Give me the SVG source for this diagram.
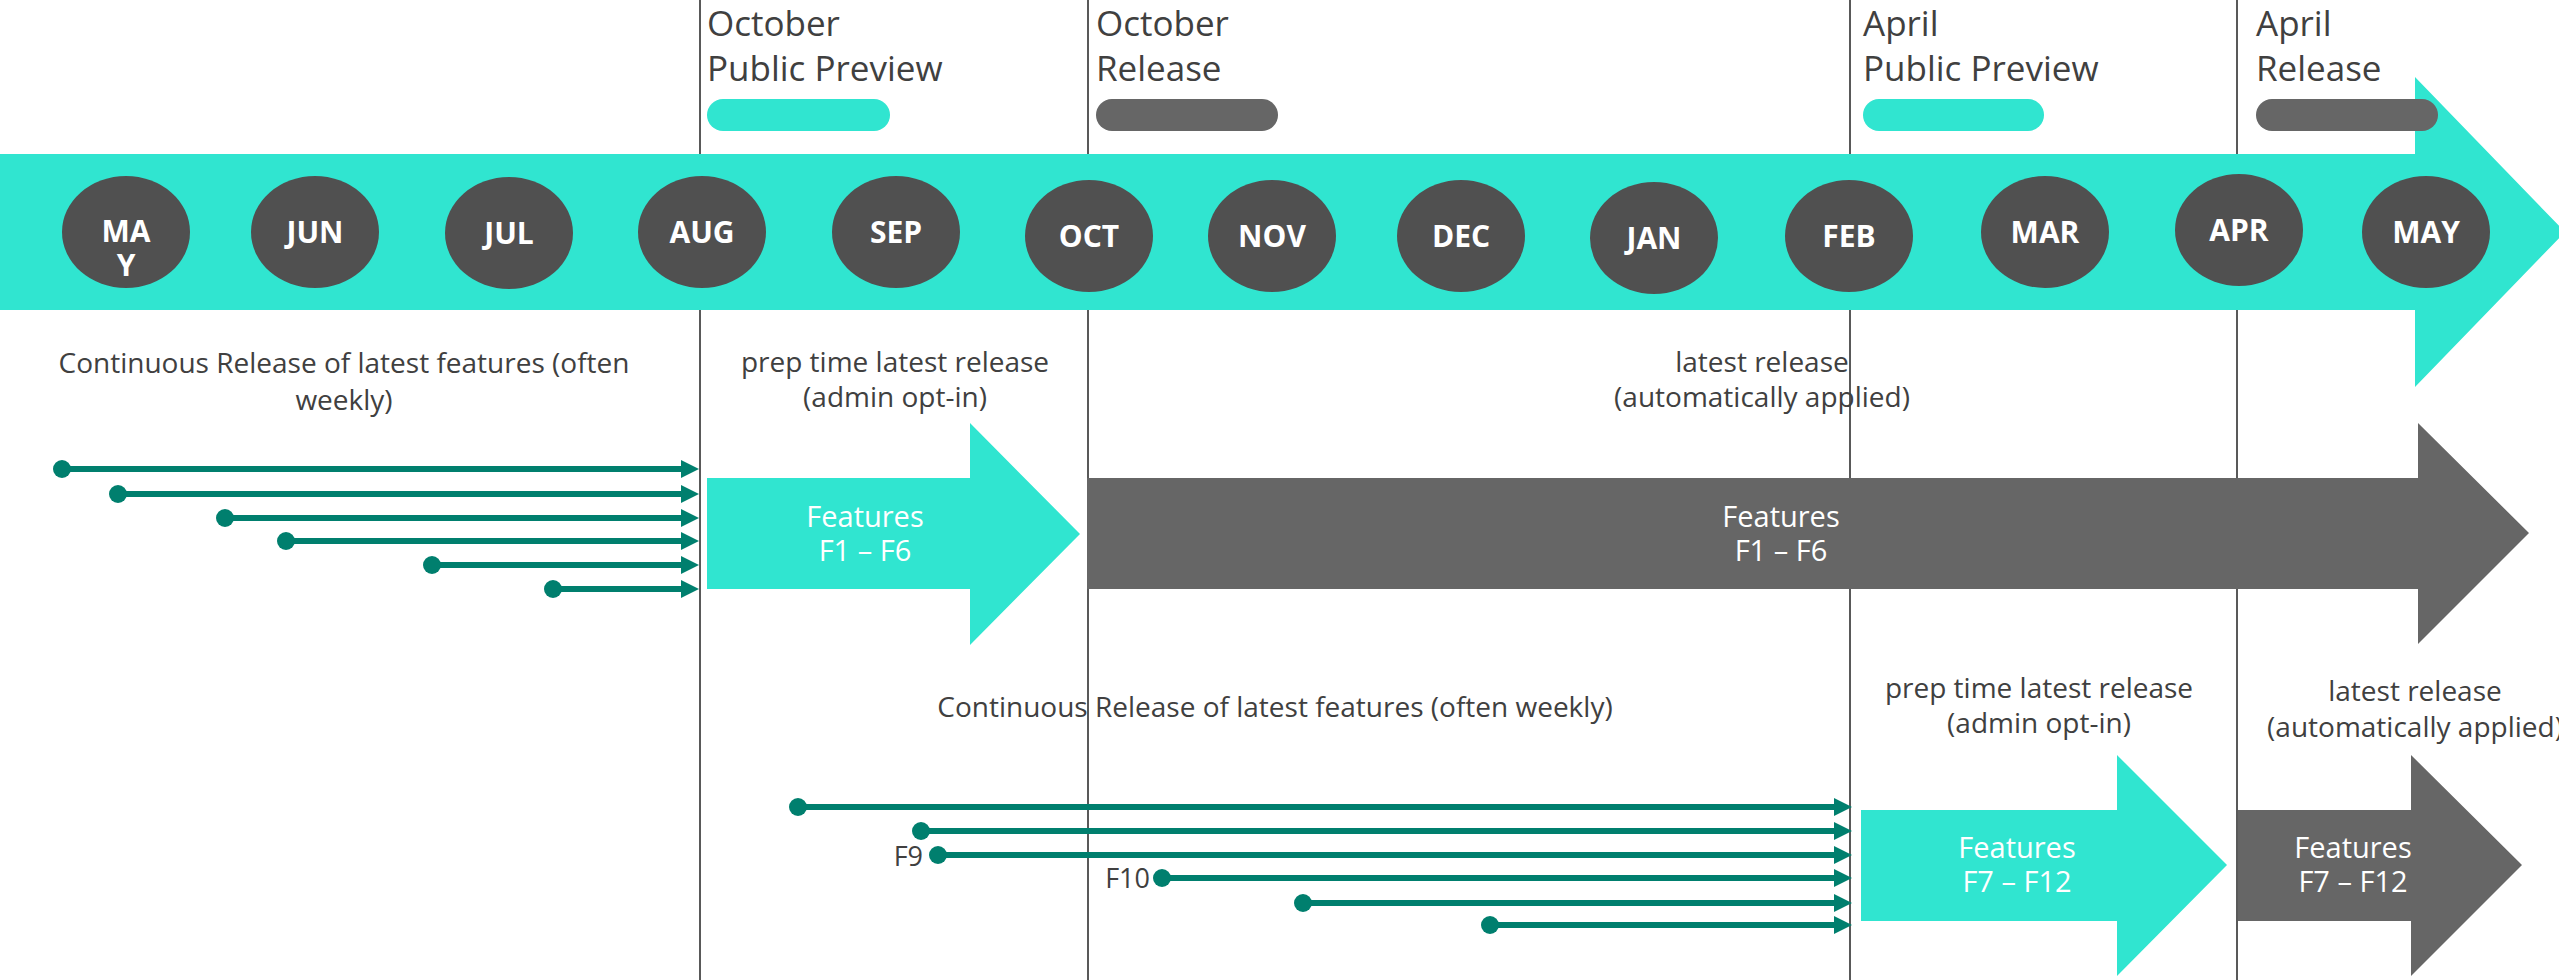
<svg xmlns="http://www.w3.org/2000/svg" width="2559" height="980" viewBox="0 0 2559 980">
<style>
.vline{stroke:#595959;stroke-width:2}
.teal{fill:#30E5D0}
.dark{fill:#666666}
.month{fill:#505050}
.mtxt{font-family:"Open Sans","Liberation Sans",sans-serif;font-weight:700;font-size:30px;fill:#ffffff;text-anchor:middle}
.hdr{font-family:"Open Sans","Liberation Sans",sans-serif;font-size:35px;fill:#404040}
.lbl{font-family:"Open Sans","Liberation Sans",sans-serif;font-size:28px;fill:#404040;text-anchor:middle}
.ftxt{font-family:"Open Sans","Liberation Sans",sans-serif;font-size:29px;fill:#ffffff;text-anchor:middle}
.flbl{font-family:"Open Sans","Liberation Sans",sans-serif;font-size:27px;fill:#404040;text-anchor:end}
.conn{stroke:#007F6E;stroke-width:6;fill:none;marker-start:url(#dot);marker-end:url(#head)}
</style>
<defs>
<marker id="head" markerUnits="userSpaceOnUse" markerWidth="18" markerHeight="18" refX="8" refY="9" orient="auto" viewBox="0 0 18 18"><path d="M0,0 L18,9 L0,18 z" fill="#007F6E"/></marker>
<marker id="dot" markerUnits="userSpaceOnUse" markerWidth="18" markerHeight="18" refX="9" refY="9" orient="auto" viewBox="0 0 18 18"><circle cx="9" cy="9" r="9" fill="#007F6E"/></marker>
</defs>
<rect width="2559" height="980" fill="#ffffff"/>

<g id="gridlines">
<line class="vline" x1="700" y1="0" x2="700" y2="980"/>
<line class="vline" x1="1088" y1="0" x2="1088" y2="980"/>
<line class="vline" x1="1850" y1="0" x2="1850" y2="980"/>
<line class="vline" x1="2237" y1="0" x2="2237" y2="980"/>
</g>

<g id="timeline">
<path class="teal" d="M0,154 L2415,154 L2415,77 L2565,232 L2415,387 L2415,310 L0,310 z"/>
</g>

<g id="milestone-oct-preview">
<text class="hdr" x="707" y="36">October</text>
<text class="hdr" x="707" y="81">Public Preview</text>
<rect class="teal" x="707" y="99" width="183" height="32" rx="16"/>
</g>
<g id="milestone-oct-release">
<text class="hdr" x="1096" y="36">October</text>
<text class="hdr" x="1096" y="81">Release</text>
<rect class="dark" x="1096" y="99" width="182" height="32" rx="16"/>
</g>
<g id="milestone-apr-preview">
<text class="hdr" x="1863" y="36">April</text>
<text class="hdr" x="1863" y="81">Public Preview</text>
<rect class="teal" x="1863" y="99" width="181" height="32" rx="16"/>
</g>
<g id="milestone-apr-release">
<text class="hdr" x="2256" y="36">April</text>
<text class="hdr" x="2256" y="81">Release</text>
<rect class="dark" x="2256" y="99" width="182" height="32" rx="16"/>
</g>

<g id="m-may1"><ellipse class="month" cx="126" cy="232" rx="64" ry="56"/><text class="mtxt" x="126" y="242">MA</text><text class="mtxt" x="126" y="276">Y</text></g>
<g id="m-jun"><ellipse class="month" cx="315" cy="232" rx="64" ry="56"/><text class="mtxt" x="315" y="243">JUN</text></g>
<g id="m-jul"><ellipse class="month" cx="509" cy="233" rx="64" ry="56"/><text class="mtxt" x="509" y="244">JUL</text></g>
<g id="m-aug"><ellipse class="month" cx="702" cy="232" rx="64" ry="56"/><text class="mtxt" x="702" y="243">AUG</text></g>
<g id="m-sep"><ellipse class="month" cx="896" cy="232" rx="64" ry="56"/><text class="mtxt" x="896" y="243">SEP</text></g>
<g id="m-oct"><ellipse class="month" cx="1089" cy="236" rx="64" ry="56"/><text class="mtxt" x="1089" y="247">OCT</text></g>
<g id="m-nov"><ellipse class="month" cx="1272" cy="236" rx="64" ry="56"/><text class="mtxt" x="1272" y="247">NOV</text></g>
<g id="m-dec"><ellipse class="month" cx="1461" cy="236" rx="64" ry="56"/><text class="mtxt" x="1461" y="247">DEC</text></g>
<g id="m-jan"><ellipse class="month" cx="1654" cy="238" rx="64" ry="56"/><text class="mtxt" x="1654" y="249">JAN</text></g>
<g id="m-feb"><ellipse class="month" cx="1849" cy="236" rx="64" ry="56"/><text class="mtxt" x="1849" y="247">FEB</text></g>
<g id="m-mar"><ellipse class="month" cx="2045" cy="232" rx="64" ry="56"/><text class="mtxt" x="2045" y="243">MAR</text></g>
<g id="m-apr"><ellipse class="month" cx="2239" cy="230" rx="64" ry="56"/><text class="mtxt" x="2239" y="241">APR</text></g>
<g id="m-may2"><ellipse class="month" cx="2426" cy="232" rx="64" ry="56"/><text class="mtxt" x="2426" y="243">MAY</text></g>

<g id="label-continuous-1">
<text class="lbl" x="344" y="373">Continuous Release of latest features (often</text>
<text class="lbl" x="344" y="410">weekly)</text>
</g>
<g id="label-prep-1">
<text class="lbl" x="895" y="372">prep time latest release</text>
<text class="lbl" x="895" y="407">(admin opt-in)</text>
</g>
<g id="label-latest-1">
<text class="lbl" x="1762" y="372">latest release</text>
<text class="lbl" x="1762" y="407">(automatically applied)</text>
</g>
<g id="label-continuous-2">
<text class="lbl" x="1275" y="717">Continuous Release of latest features (often weekly)</text>
</g>
<g id="label-prep-2">
<text class="lbl" x="2039" y="698">prep time latest release</text>
<text class="lbl" x="2039" y="733">(admin opt-in)</text>
</g>
<g id="label-latest-2">
<text class="lbl" x="2415" y="701">latest release</text>
<text class="lbl" x="2415" y="737">(automatically applied)</text>
</g>

<g id="features-f1-f6-preview">
<path class="teal" d="M707,478 L970,478 L970,423 L1080,534 L970,645 L970,589 L707,589 z"/>
<text class="ftxt" x="865" y="527">Features</text>
<text class="ftxt" x="865" y="561">F1 – F6</text>
</g>
<g id="features-f1-f6-release">
<path class="dark" d="M1087,478 L2418,478 L2418,423 L2529,533 L2418,644 L2418,589 L1087,589 z"/>
<text class="ftxt" x="1781" y="527">Features</text>
<text class="ftxt" x="1781" y="561">F1 – F6</text>
</g>
<g id="features-f7-f12-preview">
<path class="teal" d="M1861,810 L2117,810 L2117,755 L2227,865 L2117,976 L2117,921 L1861,921 z"/>
<text class="ftxt" x="2017" y="858">Features</text>
<text class="ftxt" x="2017" y="892">F7 – F12</text>
</g>
<g id="features-f7-f12-release">
<path class="dark" d="M2238,810 L2411,810 L2411,755 L2522,865 L2411,976 L2411,921 L2238,921 z"/>
<text class="ftxt" x="2353" y="858">Features</text>
<text class="ftxt" x="2353" y="892">F7 – F12</text>
</g>

<g id="feature-labels">
<text class="flbl" x="923" y="866">F9</text>
<text class="flbl" x="1150" y="888">F10</text>
</g>

<g id="connectors">
<line class="conn" x1="62" y1="469" x2="689" y2="469"/>
<line class="conn" x1="118" y1="494" x2="689" y2="494"/>
<line class="conn" x1="225" y1="518" x2="689" y2="518"/>
<line class="conn" x1="286" y1="541" x2="689" y2="541"/>
<line class="conn" x1="432" y1="565" x2="689" y2="565"/>
<line class="conn" x1="553" y1="589" x2="689" y2="589"/>
<line class="conn" x1="798" y1="807" x2="1842" y2="807"/>
<line class="conn" x1="921" y1="831" x2="1842" y2="831"/>
<line class="conn" x1="938" y1="855" x2="1842" y2="855"/>
<line class="conn" x1="1162" y1="878" x2="1842" y2="878"/>
<line class="conn" x1="1303" y1="903" x2="1842" y2="903"/>
<line class="conn" x1="1490" y1="925" x2="1842" y2="925"/>
</g>
</svg>
